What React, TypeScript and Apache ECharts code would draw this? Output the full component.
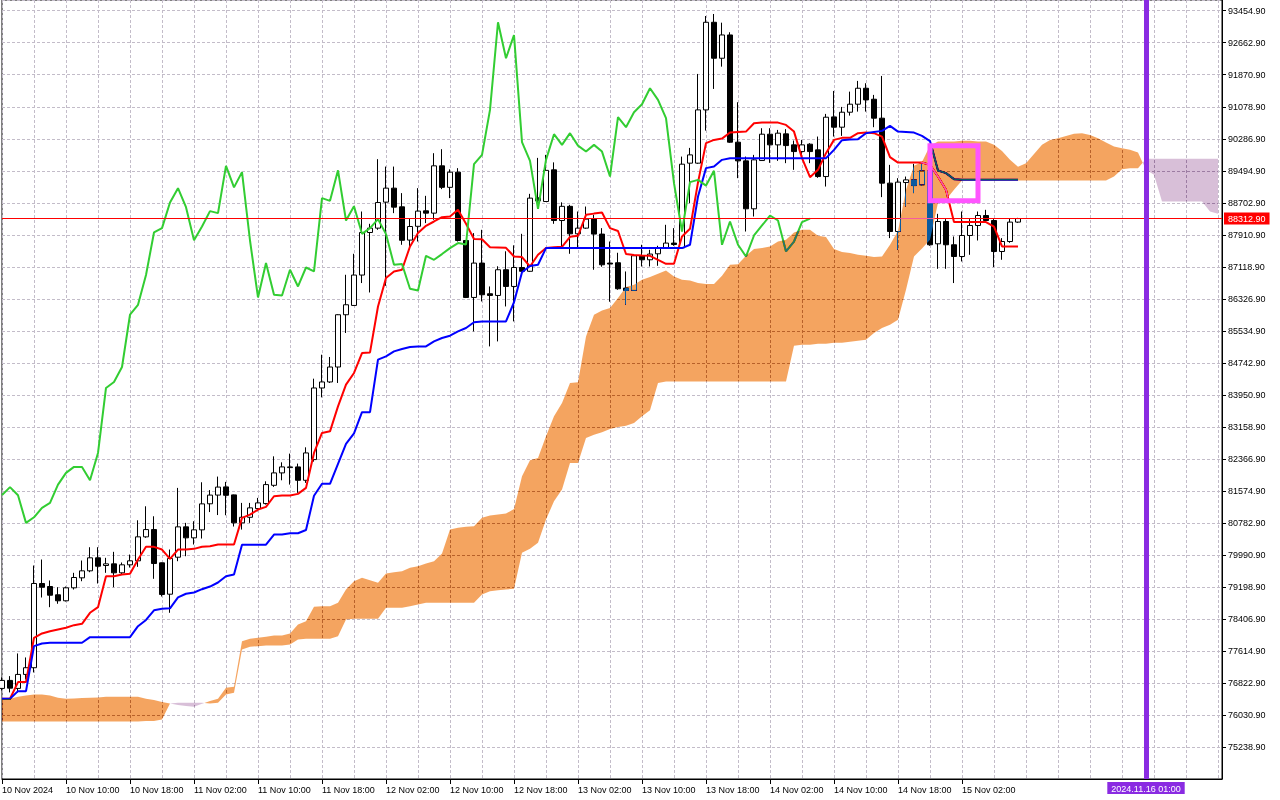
import React, { useEffect, useRef } from "react";
import * as echarts from "echarts";

// ---- BTC/USD H1 candles, bar 0 = 10 Nov 02:00 ----
const opens = [76688,76886,76688,77034,77200,79284,79209,79004,78856,79177,
79424,79597,79919,79729,79770,79548,79746,79845,80438,80618,
79795,79019,79934,80685,80413,80611,81256,81471,81674,81476,
80784,80922,81137,81261,81713,82020,82151,82168,81837,82349,
84121,84270,84640,85933,86163,86915,87968,88076,88719,89065,
88603,87780,88121,88504,88447,89617,89085,89461,87770,86361,
87211,86452,86410,87046,86633,87102,87008,88825,88734,89518,
88264,88615,87935,88076,88299,87928,87211,87219,86593,86534,
87392,87293,87441,87582,87706,87589,89683,89683,91001,93169,
92279,92855,90202,89740,88554,89748,90400,90136,90408,90136,
89970,90153,90012,89352,90828,90573,90944,91142,91537,91265,
90796,89189,87992,89204,89270,89147,89493,87688,88240,87664,
87374,87894,88141,88388,88264,87498,87745,88225];

const highs = [76960,76992,77553,77454,79729,79877,79358,79192,79209,79548,
79852,80181,80181,79919,80067,79803,80000,80848,81194,80947,
79803,80124,81649,80784,80824,81788,81595,81929,81798,81484,
81278,81278,81402,81812,82430,82282,82497,82250,82653,84351,
84944,84888,85945,86922,87441,88487,88183,89782,89599,89599,
88942,88324,89065,88875,89930,90029,89530,89560,87780,87953,
88034,86633,87132,87503,87651,87935,88924,89814,89888,89703,
88714,88652,88487,88610,88405,88076,87745,87466,87004,87416,
87664,87540,87639,88158,88076,89846,90061,91891,93324,93374,
93159,92922,91191,89846,89888,90548,90548,90506,90524,90242,
90259,90178,90341,90902,91470,91075,91453,91718,91661,91372,
91841,89641,89312,89352,89666,89666,89592,88430,88299,87869,
88487,88299,88487,88529,88299,87829,88306,88330];

const lows = [76638,76589,76589,76910,77083,78937,78698,78782,78839,79135,
79340,79563,79284,79548,79192,79506,79679,79696,80413,79400,
78962,78559,79835,79958,80248,80396,81051,80977,80972,80693,
80618,80784,81071,81236,81674,81837,81731,81526,81773,82299,
83889,84245,84245,85481,86156,86717,86484,88034,86650,88447,
87664,87540,87745,88200,88282,89041,88818,87745,86346,85520,
86262,85150,85273,86138,85768,86984,86996,88578,88727,88183,
87614,87441,87607,88059,87046,87120,86255,86551,86180,86527,
87127,87127,87144,87565,87639,87565,88694,89666,90489,91520,
92071,90185,89312,87992,88363,89740,89691,89740,89683,89518,
89790,89683,89320,89105,90341,90358,90860,90959,90959,90573,
88843,87829,87540,88610,88942,89122,87639,87070,87070,86717,
87251,87416,87770,88232,87112,87293,87713,88207];

const closes = [76886,76695,77034,77200,79284,79192,78994,78856,79177,79432,
79597,79919,79711,79770,79548,79746,79845,80438,80618,79778,
79012,79902,80685,80413,80611,81254,81471,81669,81466,80784,
80922,81155,81278,81731,82020,82168,82168,81837,82514,84121,
84270,84640,85933,86180,86915,87968,88076,88709,89065,88595,
87775,88116,88497,88447,89617,89085,89461,87770,86361,87211,
86428,86410,87046,86633,87102,87008,88818,88751,89505,88264,
88615,87935,88076,88299,87928,87169,87187,86576,86534,87392,
87293,87434,87582,87706,87671,89658,89888,91001,93169,92279,
92855,90202,89740,88554,89765,90400,90136,90425,90118,89970,
90136,89970,89352,90820,90573,90944,91142,91537,91248,90796,
89189,87992,89214,89270,89129,89493,87664,88240,87664,87374,
87894,88141,88388,88264,87498,87745,88225,88312.9];

// ---- Ichimoku lines ----
const tenkanSen = [76433,76433,76844,76844,77941,78048,78104,78146,78188,78253,
78287,78559,78698,79464,79464,79506,79523,79877,80191,80191,
80124,79894,80124,80124,80141,80191,80206,80248,80248,80248,
80908,80989,81113,81180,81442,81459,81459,81501,81649,82514,
83009,83048,83666,84203,84492,84986,85001,86138,86840,87004,
87046,87622,87953,88133,88240,88348,88363,88529,88183,87805,
87800,87602,87597,87589,87374,87360,87127,87416,87582,87602,
87614,87861,87886,88405,88435,88462,88076,88005,87436,87409,
87399,87392,87293,87194,87194,87869,88059,89209,90178,90259,
90291,90440,90457,90464,90672,90687,90687,90687,90630,90464,
89807,89337,89518,89930,90259,90309,90309,90425,90440,90425,
90341,89832,89698,89698,89698,89698,89641,89352,89023,88225,
88225,88225,88225,88225,88116,87622,87622,87622];

const kijunSen = [76433,76433,76621,76621,77734,77800,77818,77818,77818,77818,
77818,77956,77956,77956,77956,77956,77956,78228,78381,78621,
78658,78670,78942,79031,79061,79143,79209,79308,79464,79506,
80244,80244,80244,80244,80494,80494,80528,80528,80606,81455,
81751,81751,82246,82740,83000,83523,83523,84821,84902,85026,
85085,85135,85150,85150,85273,85357,85414,85520,85604,85748,
85768,85768,85768,85768,86242,86984,87137,87169,87582,87582,
87582,87582,87582,87582,87582,87582,87582,87582,87582,87582,
87582,87582,87582,87582,87582,87582,87664,88858,89560,89599,
89765,89807,89807,89807,89807,89807,89807,89807,89807,89807,
89807,89807,89807,89807,90012,90252,90267,90277,90425,90457,
90482,90605,90464,90457,90440,90358,90230,89500,89436,89288,
89270,89270,89270,89270,89270,89270,89270,89270];

// Senkou spans as displayed (already shifted 26 bars forward), bars 0..152
const senkouSpanA = [76416,76433,76483,76515,76540,76540,76515,76458,76433,76441,
76448,76458,76465,76483,76483,76483,76483,76483,76433,76399,
76349,76317,76275,76250,76236,76310,76374,76433,76705,76730,
77857,77917,77941,77966,77998,77998,78048,78270,78352,78708,
78722,78722,78806,79135,79340,79424,79365,79301,79531,79563,
79588,79672,79711,79778,79835,80025,80618,80660,80685,80700,
80908,80964,80989,81014,81130,81936,82332,82391,82925,83419,
83750,84245,84260,85397,85933,86040,86099,86346,86618,86675,
86798,86865,86947,87028,86880,86798,86781,86717,86692,86692,
86897,87169,87182,87392,87557,87582,87622,87745,87787,87968,
88034,88034,87886,87854,87557,87483,87458,87416,87392,87360,
87374,87664,88010,89023,89617,89715,90111,90217,90217,90217,
90235,90235,90217,90217,90136,89987,89765,89592,89683,89913,
90136,90259,90301,90358,90408,90425,90383,90301,90192,90094,
90054,90012,89945,89518,89394,88734,88734,88734,88734,88734,
88734,88487,88430];

const senkouSpanB = [75872,75872,75872,75872,75872,75872,75872,75872,75872,75872,
75872,75872,75872,75872,75872,75872,75872,75872,75880,75880,
75922,76317,76334,76334,76334,76334,76317,76334,76540,76582,
77652,77719,77734,77751,77751,77751,77776,77899,77917,77917,
77917,77917,77981,78394,78411,78411,78411,78411,78683,78683,
78683,78722,78764,78806,78806,78806,78806,78806,78806,78806,
79012,79093,79118,79135,79152,80042,80141,80290,80866,81318,
81607,82267,82267,82885,82967,83024,83108,83157,83189,83256,
83419,83568,84245,84284,84284,84284,84284,84284,84284,84284,
84284,84284,84284,84284,84284,84284,84284,84284,84284,85167,
85192,85192,85216,85216,85241,85241,85266,85290,85315,85481,
85604,85686,85810,86551,87374,87573,87787,88702,88776,89023,
89253,89253,89253,89253,89253,89253,89253,89253,89253,89253,
89253,89253,89253,89253,89253,89253,89253,89253,89253,89352,
89535,89560,89560,89790,89790,89790,89790,89790,89790,89790,
89790,89790,89790];

const chikouShift = 26;

// ---- axes ----
const xAxisMax = 152.5;
const xLabelBars = [0, 8, 16, 24, 32, 40, 48, 56, 64, 72, 80, 88, 96, 104, 112, 120];
const xLabelTexts = ["10 Nov 2024", "10 Nov 10:00", "10 Nov 18:00", "11 Nov 02:00", "11 Nov 10:00",
  "11 Nov 18:00", "12 Nov 02:00", "12 Nov 10:00", "12 Nov 18:00", "13 Nov 02:00", "13 Nov 10:00",
  "13 Nov 18:00", "14 Nov 02:00", "14 Nov 10:00", "14 Nov 18:00", "15 Nov 02:00"];
const yAxisMin = 74446.9;
const yAxisMax = 93720;
const yTickStep = 792;

// ---- annotations ----
const lastPrice = 88312.9;
const futureBar = 143;
const futureText = "2024.11.16 01:00";
const boxBars = [116, 122];
const boxPrices = [90116, 88756];

// cloud colours, painted with "difference" so white -> sandybrown / thistle
const CLOUD_UP = "#0b5b9f";
const CLOUD_DOWN = "#274027";
const BLEND_FILLS = ["#0b5b9f", "rgb(11,91,159)", "#274027", "rgb(39,64,39)"];

export default function App() {
  const ref = useRef<HTMLDivElement | null>(null);

  useEffect(() => {
    if (!ref.current) return;
    const chart = echarts.init(ref.current, null, { renderer: "svg" });

    const idx = (arr: number[]) => arr.map((v, i) => [i, v]);
    const candles = opens.map((o, i) => [i, o, closes[i], lows[i], highs[i]]);
    const chikou = closes.slice(chikouShift).map((v, i) => [i, v]);

    const axisText = { fontFamily: "Liberation Sans", fontSize: 9, color: "#000" };
    const gridLine = { show: true, lineStyle: { color: "#c3bcc9", width: 1, type: [3, 2] } };

    const renderKumo = (_params: any, api: any) => {
      const children: any[] = [];
      let upper: number[][] = [];
      let lower: number[][] = [];
      let sign = 0;
      const flush = () => {
        if (upper.length > 1) {
          children.push({
            type: "polygon",
            shape: { points: upper.concat(lower.slice().reverse()) },
            style: { fill: sign >= 0 ? CLOUD_UP : CLOUD_DOWN, stroke: null },
          });
        }
      };
      for (let i = 0; i < senkouSpanA.length; i++) {
        const a = senkouSpanA[i];
        const b = senkouSpanB[i];
        const d = a - b;
        const s = d > 0 ? 1 : d < 0 ? -1 : sign;
        if (i > 0 && sign !== 0 && s !== sign) {
          const pa = senkouSpanA[i - 1];
          const pb = senkouSpanB[i - 1];
          const pd = pa - pb;
          const t = pd / (pd - d);
          const cp = api.coord([i - 1 + t, pa + t * (a - pa)]);
          upper.push(cp);
          lower.push(cp);
          flush();
          upper = [cp];
          lower = [cp];
        }
        sign = s;
        upper.push(api.coord([i, a]));
        lower.push(api.coord([i, b]));
      }
      flush();
      return { type: "group", children };
    };

    const option: any = {
      animation: false,
      backgroundColor: "#ffffff",
      textStyle: { fontFamily: "Liberation Sans" },
      grid: {
        left: 2, top: 0, right: 58, bottom: 21,
        show: true, borderColor: "#000", borderWidth: 1, backgroundColor: "transparent",
        outerBoundsMode: "none", containLabel: false,
      },
      xAxis: [
        {
          type: "value", min: 0, max: xAxisMax, interval: 4, position: "bottom",
          axisLine: { show: false, onZero: false },
          axisTick: { show: false },
          axisLabel: { show: false },
          splitLine: gridLine,
        },
        {
          type: "value", min: 0, max: xAxisMax, position: "bottom", offset: 0,
          axisLine: { show: true, onZero: false, lineStyle: { color: "#000", width: 1 } },
          axisTick: { show: true, customValues: xLabelBars, length: 5, lineStyle: { color: "#000" } },
          axisLabel: {
            show: true, customValues: xLabelBars, align: "left", margin: 6, ...axisText,
            formatter: (v: number) => {
              const i = xLabelBars.indexOf(Math.round(v));
              return i >= 0 ? xLabelTexts[i] : "";
            },
          },
          splitLine: { show: false },
        },
      ],
      yAxis: {
        type: "value", position: "right", min: yAxisMin, max: yAxisMax, interval: yTickStep,
        axisLine: { show: true, onZero: false, lineStyle: { color: "#000", width: 1 } },
        axisTick: { show: true, length: 4, lineStyle: { color: "#000" } },
        axisLabel: {
          ...axisText, margin: 6, showMinLabel: false, showMaxLabel: false,
          formatter: (v: number) => v.toFixed(2),
        },
        splitLine: gridLine,
      },
      series: [
        {
          type: "candlestick", name: "BTCUSD,H1", xAxisIndex: 0, yAxisIndex: 0, z: 2,
          barWidth: 5, silent: true, data: candles,
          itemStyle: { color: "#ffffff", color0: "#000000", borderColor: "#000000", borderColor0: "#000000", borderWidth: 1 },
        },
        {
          type: "line", name: "Tenkan-sen", z: 3, data: idx(tenkanSen), symbol: "none", showSymbol: false,
          clip: false, silent: true, lineStyle: { color: "#ff0000", width: 2 },
          markLine: {
            silent: true, symbol: ["none", "none"], z: 5,
            lineStyle: { color: "#ff0000", width: 1, type: "solid" },
            label: {
              show: true, position: "end", distance: 2, formatter: lastPrice.toFixed(2),
              color: "#ffffff", backgroundColor: "#ff0000", padding: [2, 4, 1, 4],
              fontFamily: "Liberation Sans", fontSize: 9,
            },
            data: [{ yAxis: lastPrice }],
          },
        },
        {
          type: "line", name: "Kijun-sen", z: 3, data: idx(kijunSen), symbol: "none", showSymbol: false,
          clip: false, silent: true, lineStyle: { color: "#0000ff", width: 2 },
          markLine: {
            silent: true, symbol: ["none", "none"], z: 10,
            lineStyle: { color: "#8a2be2", width: 5, type: "solid" },
            label: {
              show: true, position: "start", distance: 3, formatter: futureText,
              color: "#ffffff", backgroundColor: "#8a2be2", padding: [2, 4, 1, 4],
              fontFamily: "Liberation Sans", fontSize: 9,
            },
            data: [{ xAxis: futureBar }],
          },
          markArea: {
            silent: true, z: 10,
            itemStyle: { color: "rgba(0,0,0,0)", borderColor: "#ff55ff", borderWidth: 5 },
            data: [[{ coord: [boxBars[0], boxPrices[0]] }, { coord: [boxBars[1], boxPrices[1]] }]],
          },
        },
        {
          type: "line", name: "Chikou Span", z: 3, data: chikou, symbol: "none", showSymbol: false,
          clip: false, silent: true, lineStyle: { color: "#32cd32", width: 2 },
        },
        {
          type: "custom", name: "Kumo", z: 8, silent: true, clip: false,
          coordinateSystem: "cartesian2d", xAxisIndex: 0, yAxisIndex: 0,
          data: [[0, senkouSpanA[0]]],
          renderItem: renderKumo,
        },
      ],
    };

    const applyBlend = () => {
      const root = ref.current;
      if (!root) return;
      root.querySelectorAll("path, polygon").forEach((el) => {
        const e = el as SVGElement;
        const f = (e.getAttribute("fill") || e.style.fill || "").toLowerCase().replace(/\s/g, "");
        if (BLEND_FILLS.indexOf(f) >= 0) {
          e.style.mixBlendMode = "difference";
          e.style.setProperty("mix-blend-mode", "difference");
        }
      });
    };
    chart.on("finished", applyBlend);
    chart.on("rendered", applyBlend);
    chart.setOption(option);
    applyBlend();
    const t1 = window.setTimeout(applyBlend, 30);
    const t2 = window.setTimeout(applyBlend, 300);
    return () => {
      window.clearTimeout(t1);
      window.clearTimeout(t2);
      chart.dispose();
    };
  }, []);

  return (
    <>
      <style>{`.kumo-chart path[fill="${CLOUD_UP}" i], .kumo-chart path[fill="${CLOUD_DOWN}" i], .kumo-chart path[fill="rgb(11,91,159)"], .kumo-chart path[fill="rgb(39,64,39)"] { mix-blend-mode: difference; }`}</style>
      <div
        ref={ref}
        className="kumo-chart"
        style={{ position: "fixed", left: 0, top: 0, width: 1280, height: 800 }}
      />
    </>
  );
}
